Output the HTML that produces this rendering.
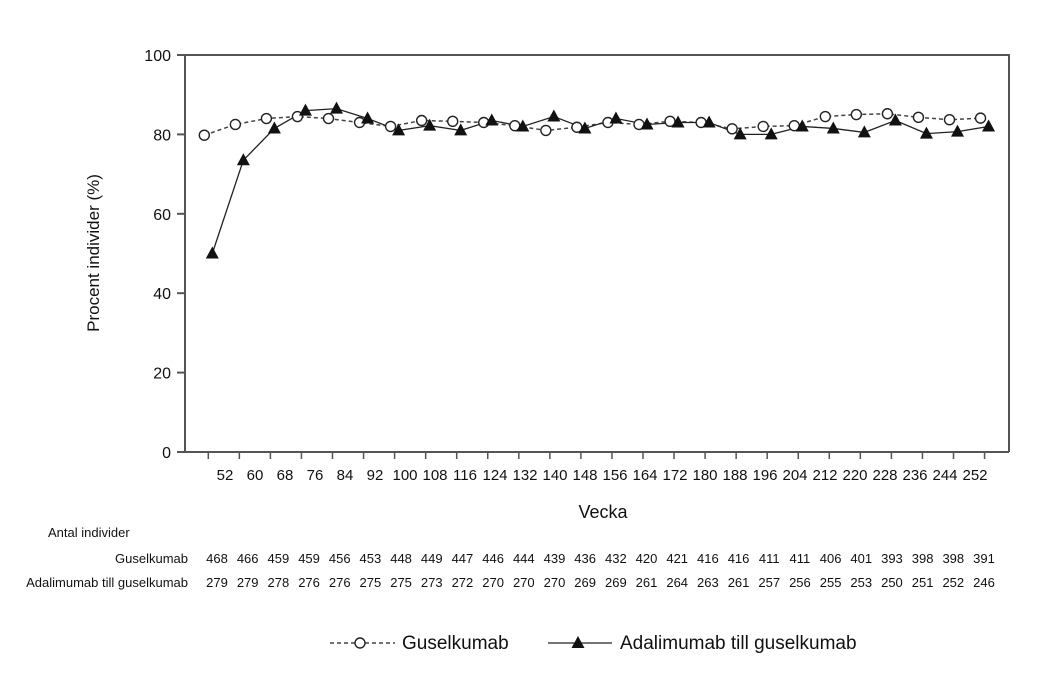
<!DOCTYPE html>
<html><head><meta charset="utf-8"><style>
body{margin:0;background:#fff;}
svg{display:block;font-family:"Liberation Sans",Arial,sans-serif;}
</style></head><body>
<svg id="s" width="1054" height="680" viewBox="0 0 1054 680"></svg>
<script>
const g=[79.8,82.5,84,84.5,84,83,82,83.5,83.3,83,82.2,81,81.8,83,82.5,83.3,83,81.4,82,82.2,84.5,85,85.2,84.3,83.7,84.1];
const a=[50,73.5,81.5,86,86.5,84,81,82.2,81,83.5,82,84.5,81.5,84,82.5,83,83,80,80,82,81.5,80.5,83.5,80.2,80.7,82];
const gn=[468,466,459,459,456,453,448,449,447,446,444,439,436,432,420,421,416,416,411,411,406,401,393,398,398,391];
const an=[279,279,278,276,276,275,275,273,272,270,270,270,269,269,261,264,263,261,257,256,255,253,250,251,252,246];
const Y=v=>452-3.97*v, T=i=>208.3+31.05*i;
let s='';
s+='<path d="M185,55H1009V452M185,55V452M177,452H1009" fill="none" stroke="#555" stroke-width="2"/>';
for(let v=0;v<=100;v+=20){s+=`<line x1="177" x2="185" y1="${Y(v)}" y2="${Y(v)}" stroke="#555" stroke-width="2"/><text x="171" y="${Y(v)+6}" font-size="16" text-anchor="end" fill="#111">${v}</text>`;}
for(let i=0;i<26;i++){s+=`<line x1="${T(i)}" x2="${T(i)}" y1="452" y2="459" stroke="#555" stroke-width="1.5"/>`;
s+=`<text x="${225+30*i}" y="480" font-size="15" text-anchor="middle" fill="#111">${52+8*i}</text>`;
const cx=217+30.68*i;
s+=`<text x="${cx}" y="563" font-size="13" text-anchor="middle" fill="#111">${gn[i]}</text>`;
s+=`<text x="${cx}" y="587" font-size="13" text-anchor="middle" fill="#111">${an[i]}</text>`;}
s+=`<polyline points="${g.map((v,i)=>(T(i)-4)+','+Y(v)).join(' ')}" fill="none" stroke="#444" stroke-width="1.5" stroke-dasharray="4,3"/>`;
s+=`<polyline points="${a.map((v,i)=>(T(i)+4)+','+Y(v)).join(' ')}" fill="none" stroke="#222" stroke-width="1.3"/>`;
const tri=(x,y)=>`<polygon points="${x},${y-7} ${x-6.5},${y+5} ${x+6.5},${y+5}" fill="#111"/>`;
g.forEach((v,i)=>s+=`<circle cx="${T(i)-4}" cy="${Y(v)}" r="5" fill="#fff" stroke="#222" stroke-width="1.4"/>`);
a.forEach((v,i)=>s+=tri(T(i)+4,Y(v)));
s+='<text x="0" y="0" font-size="17" text-anchor="middle" fill="#111" transform="translate(99,253) rotate(-90)">Procent individer (%)</text>';
s+='<text x="603" y="518" font-size="18" text-anchor="middle" fill="#111">Vecka</text>';
s+='<text x="48" y="537" font-size="13" fill="#111">Antal individer</text>';
s+='<text x="188" y="563" font-size="13" text-anchor="end" fill="#111">Guselkumab</text>';
s+='<text x="188" y="587" font-size="13" text-anchor="end" fill="#111">Adalimumab till guselkumab</text>';
s+='<line x1="330" x2="395" y1="643" y2="643" stroke="#444" stroke-width="1.5" stroke-dasharray="4,3"/><circle cx="360" cy="643" r="5" fill="#fff" stroke="#222" stroke-width="1.4"/>';
s+='<text x="402" y="649" font-size="19" fill="#111">Guselkumab</text>';
s+='<line x1="548" x2="612" y1="643" y2="643" stroke="#222" stroke-width="1.3"/>'+tri(578,643);
s+='<text x="620" y="649" font-size="19" fill="#111">Adalimumab till guselkumab</text>';
document.getElementById('s').innerHTML=s;
</script>
</body></html>
